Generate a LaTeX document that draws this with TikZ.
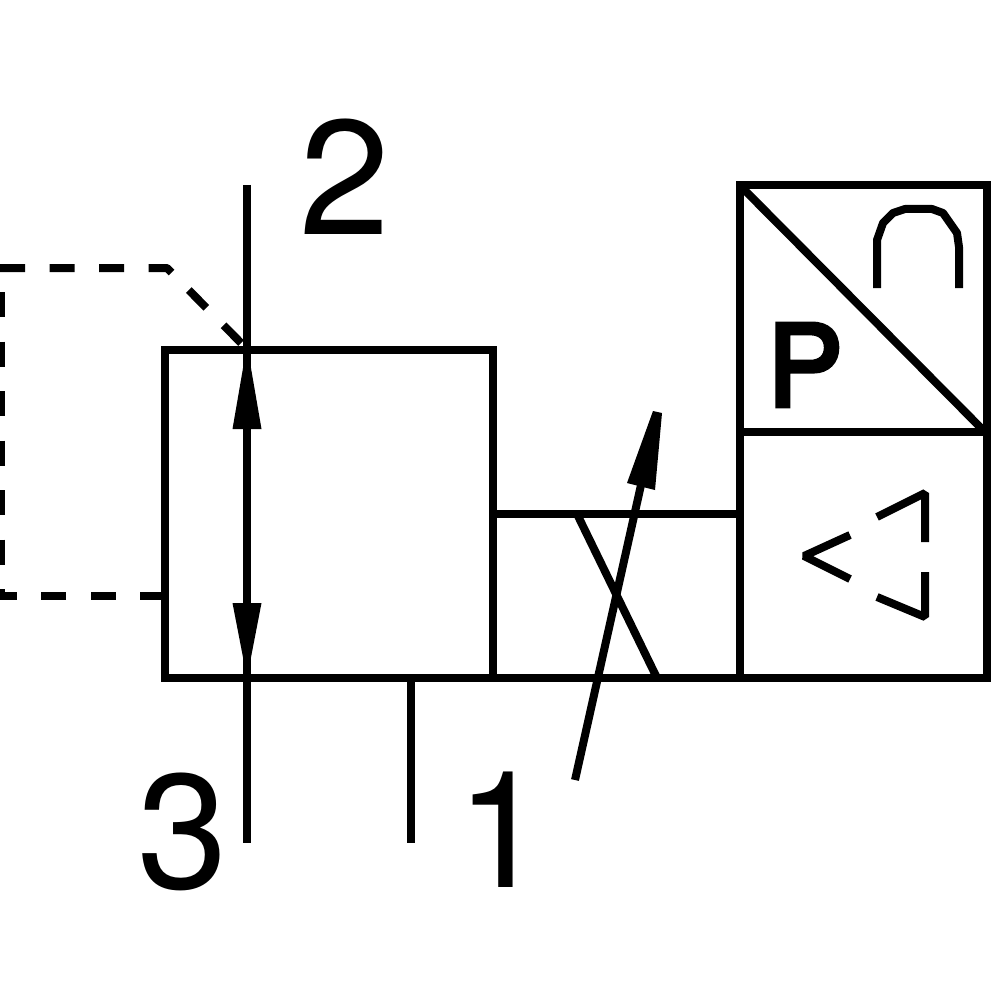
\documentclass[tikz,border=0pt]{standalone}
\usepackage{fontspec}
\setmainfont{TeX Gyre Heros}
\newfontfamily\pfont[FakeBold=4]{TeX Gyre Heros}
\tikzset{
  ln/.style={draw=black,line width=8pt,line cap=butt},
  th/.style={draw=black,line width=8pt,line join=miter},
  sym/.style={draw=black,line width=8pt,line cap=butt,line join=bevel},
  dash line/.style={draw=black,line width=8pt,dash pattern=on 25pt off 24.5pt,line join=bevel},
  head/.style={fill=black,draw=none},
  lab/.style={inner sep=0pt,font=\fontsize{163}{163}\selectfont,text=black}
}
\begin{document}
\begin{tikzpicture}[x=1pt,y=-1pt]
\useasboundingbox[fill=white] (0,0) rectangle (1000,1000);
% body boxes
\draw[th] (165,350) rectangle (493,678);
\draw[th] (493,514) -- (740,514);
\draw[th] (493,678) -- (987,678);
\draw[th] (740,185.5) rectangle (987,678);
\draw[th] (740,432) -- (987,432);
\draw[th] (740,185.5) -- (985,432);
% vertical flow
\draw[ln] (247,185) -- (247,843);
\draw[ln] (411,678) -- (411,843);
\fill[head] (247,345) -- (261.5,429) -- (232.5,429) -- cycle;
\fill[head] (247,678) -- (232.5,603) -- (261.5,603) -- cycle;
% pilot
\draw[dash line] (0,268) -- (167,268) -- (245,347);
\draw[dash line] (0.5,292) -- (0.5,596);
\draw[dash line] (165,596) -- (0,596);
% restrictor
\draw[ln] (578,516) -- (657,678);
\draw[ln] (575,780) -- (641,485);
\fill[head] (653,411) -- (662,413) -- (655,490) -- (627,483) -- cycle;
% solenoid
\draw[sym] (877,288) -- (877,240) -- (883,223) -- (893,213) -- (905,209) -- (932,209) -- (943,213) -- (957,233) -- (959,247) -- (959,288);
\draw[sym] (850,535) -- (804,556) -- (850,579);
\draw[sym] (877,517) -- (925,493) -- (925,542);
\draw[sym] (877,597) -- (925,617) -- (925,572);
\node[lab,font=\fontsize{113}{113}\pfont] (p) at (805,365) {P};
\node[lab] (n2) at (345,177) {2};
\node[lab] (n3) at (183,832) {3};
\node[lab] (n1) at (502,830) {1};
\end{tikzpicture}
\end{document}
